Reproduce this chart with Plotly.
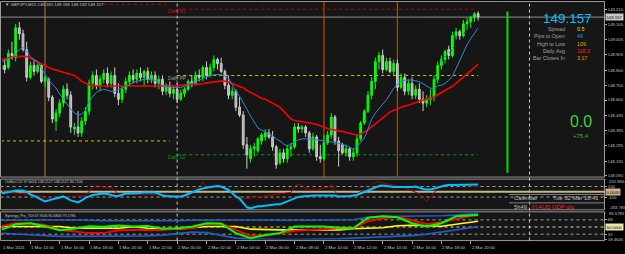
import plotly.graph_objects as go

W, H = 625, 254

# ---------------- data ----------------
bars = list(range(131))  # M15 bars from 1 Mar 2021 12:00

opens = [148.805, 148.832, 148.819, 148.912, 148.885, 149.085, 149.045, 148.939, 148.752, 148.832,
         148.792, 148.832, 148.725, 148.739, 148.619, 148.459, 148.512, 148.579, 148.672, 148.632,
         148.405, 148.419, 148.379, 148.459, 148.525, 148.712, 148.765, 148.699, 148.739, 148.779,
         148.712, 148.765, 148.645, 148.605, 148.672, 148.725, 148.765, 148.739, 148.779, 148.752,
         148.792, 148.739, 148.765, 148.712, 148.739, 148.659, 148.699, 148.645, 148.672, 148.605,
         148.645, 148.672, 148.725, 148.712, 148.765, 148.752, 148.819, 148.765, 148.819, 148.872,
         148.845, 148.792, 148.699, 148.632, 148.659, 148.552, 148.499, 148.299, 148.205, 148.272,
         148.259, 148.325, 148.352, 148.379, 148.352, 148.285, 148.179, 148.245, 148.205, 148.272,
         148.285, 148.419, 148.405, 148.419, 148.379, 148.272, 148.352, 148.219, 148.205, 148.312,
         148.365, 148.485, 148.325, 148.299, 148.245, 148.272, 148.219, 148.245, 148.339, 148.445,
         148.525, 148.632, 148.725, 148.859, 148.899, 148.805, 148.859, 148.792, 148.845, 148.685,
         148.752, 148.659, 148.712, 148.632, 148.672, 148.605, 148.579, 148.605, 148.619, 148.739,
         148.832, 148.872, 148.939, 148.899, 149.032, 149.059, 149.032, 149.112, 149.125, 149.152,
         149.181]
highs = [148.859, 148.872, 148.939, 148.992, 149.112, 149.125, 149.072, 148.992, 148.859, 148.872,
         148.845, 148.845, 148.765, 148.752, 148.632, 148.539, 148.605, 148.699, 148.712, 148.659,
         148.445, 148.525, 148.485, 148.552, 148.739, 148.792, 148.805, 148.765, 148.805, 148.819,
         148.792, 148.819, 148.712, 148.699, 148.752, 148.792, 148.805, 148.805, 148.819, 148.805,
         148.819, 148.792, 148.792, 148.765, 148.765, 148.712, 148.725, 148.699, 148.712, 148.672,
         148.685, 148.739, 148.765, 148.792, 148.805, 148.832, 148.859, 148.845, 148.899, 148.885,
         148.885, 148.805, 148.765, 148.685, 148.672, 148.619, 148.525, 148.352, 148.299, 148.312,
         148.352, 148.379, 148.405, 148.405, 148.392, 148.299, 148.272, 148.272, 148.299, 148.312,
         148.445, 148.445, 148.432, 148.432, 148.392, 148.379, 148.365, 148.299, 148.365, 148.392,
         148.512, 148.499, 148.352, 148.312, 148.299, 148.285, 148.272, 148.365, 148.459, 148.539,
         148.659, 148.752, 148.885, 148.925, 148.939, 148.885, 148.885, 148.872, 148.872, 148.779,
         148.779, 148.739, 148.752, 148.699, 148.712, 148.659, 148.632, 148.672, 148.765, 148.859,
         148.899, 148.939, 148.965, 149.059, 149.085, 149.072, 149.139, 149.152, 149.165, 149.192,
         149.196]
lows = [148.765, 148.779, 148.805, 148.872, 148.859, 149.005, 148.925, 148.725, 148.739, 148.765,
        148.779, 148.712, 148.685, 148.592, 148.445, 148.392, 148.485, 148.552, 148.605, 148.379,
        148.365, 148.352, 148.352, 148.432, 148.499, 148.672, 148.672, 148.659, 148.712, 148.685,
        148.685, 148.619, 148.565, 148.579, 148.645, 148.699, 148.712, 148.712, 148.725, 148.699,
        148.712, 148.712, 148.685, 148.672, 148.632, 148.632, 148.619, 148.605, 148.579, 148.592,
        148.619, 148.659, 148.685, 148.699, 148.725, 148.725, 148.739, 148.752, 148.792, 148.805,
        148.779, 148.672, 148.605, 148.605, 148.525, 148.485, 148.272, 148.139, 148.179, 148.219,
        148.245, 148.299, 148.325, 148.339, 148.259, 148.139, 148.165, 148.179, 148.179, 148.219,
        148.272, 148.379, 148.379, 148.352, 148.245, 148.259, 148.192, 148.179, 148.192, 148.299,
        148.339, 148.299, 148.152, 148.232, 148.219, 148.192, 148.192, 148.219, 148.325, 148.432,
        148.512, 148.605, 148.672, 148.805, 148.779, 148.792, 148.779, 148.765, 148.659, 148.672,
        148.632, 148.632, 148.605, 148.605, 148.579, 148.525, 148.552, 148.565, 148.592, 148.712,
        148.805, 148.845, 148.872, 148.885, 149.005, 149.005, 149.019, 149.072, 149.085, 149.125,
        149.133]
closes = [148.832, 148.805, 148.912, 148.899, 149.085, 149.045, 148.939, 148.752, 148.832, 148.792,
          148.832, 148.725, 148.752, 148.619, 148.472, 148.512, 148.579, 148.672, 148.632, 148.419,
          148.419, 148.379, 148.459, 148.525, 148.712, 148.765, 148.699, 148.739, 148.779, 148.712,
          148.765, 148.645, 148.605, 148.672, 148.725, 148.765, 148.739, 148.779, 148.752, 148.792,
          148.739, 148.765, 148.712, 148.739, 148.659, 148.699, 148.645, 148.672, 148.605, 148.645,
          148.672, 148.725, 148.712, 148.765, 148.752, 148.819, 148.765, 148.819, 148.872, 148.845,
          148.792, 148.699, 148.632, 148.659, 148.552, 148.499, 148.299, 148.232, 148.272, 148.285,
          148.339, 148.365, 148.379, 148.352, 148.285, 148.165, 148.245, 148.205, 148.272, 148.285,
          148.419, 148.405, 148.419, 148.379, 148.272, 148.352, 148.219, 148.205, 148.312, 148.365,
          148.485, 148.325, 148.259, 148.245, 148.272, 148.219, 148.245, 148.339, 148.445, 148.525,
          148.632, 148.725, 148.859, 148.899, 148.805, 148.859, 148.792, 148.845, 148.685, 148.752,
          148.659, 148.712, 148.632, 148.672, 148.605, 148.579, 148.605, 148.619, 148.739, 148.832,
          148.872, 148.925, 148.899, 149.032, 149.059, 149.032, 149.112, 149.125, 149.152, 149.179,
          149.157]

ma_slow = [148.872, 148.879, 148.885, 148.889, 148.892, 148.894, 148.894, 148.892, 148.882, 148.869,
           148.855, 148.842, 148.832, 148.819, 148.809, 148.802, 148.795, 148.789, 148.782, 148.775,
           148.765, 148.745, 148.725, 148.712, 148.702, 148.695, 148.694, 148.694, 148.695, 148.695,
           148.694, 148.694, 148.693, 148.693, 148.693, 148.692, 148.692, 148.692, 148.691, 148.691,
           148.691, 148.692, 148.692, 148.692, 148.691, 148.691, 148.692, 148.692, 148.695, 148.699,
           148.702, 148.705, 148.705, 148.705, 148.705, 148.709, 148.715, 148.719, 148.722, 148.725,
           148.727, 148.727, 148.722, 148.712, 148.699, 148.692, 148.682, 148.665, 148.652, 148.639,
           148.625, 148.612, 148.605, 148.592, 148.579, 148.565, 148.552, 148.525, 148.499, 148.472,
           148.462, 148.459, 148.455, 148.452, 148.449, 148.442, 148.435, 148.425, 148.415, 148.409,
           148.402, 148.399, 148.394, 148.389, 148.382, 148.375, 148.372, 148.365, 148.372, 148.385,
           148.399, 148.419, 148.439, 148.465, 148.485, 148.499, 148.519, 148.532, 148.542, 148.552,
           148.559, 148.565, 148.575, 148.582, 148.592, 148.599, 148.605, 148.612, 148.622, 148.635,
           148.649, 148.662, 148.675, 148.692, 148.712, 148.732, 148.752, 148.772, 148.795, 148.819,
           148.839]
ma_fast = [148.859, 148.865, 148.872, 148.885, 148.912, 148.939, 148.952, 148.932, 148.892, 148.872,
           148.859, 148.812, 148.772, 148.732, 148.705, 148.679, 148.639, 148.605, 148.565, 148.539,
           148.512, 148.499, 148.505, 148.525, 148.592, 148.625, 148.652, 148.665, 148.672, 148.665,
           148.659, 148.659, 148.669, 148.679, 148.689, 148.702, 148.719, 148.725, 148.732, 148.739,
           148.739, 148.735, 148.732, 148.719, 148.695, 148.689, 148.685, 148.685, 148.685, 148.685,
           148.692, 148.702, 148.715, 148.725, 148.735, 148.745, 148.755, 148.765, 148.769, 148.772,
           148.769, 148.762, 148.745, 148.699, 148.659, 148.625, 148.585, 148.539, 148.492, 148.452,
           148.412, 148.399, 148.385, 148.372, 148.359, 148.339, 148.325, 148.305, 148.292, 148.302,
           148.319, 148.332, 148.339, 148.339, 148.339, 148.339, 148.332, 148.329, 148.325, 148.322,
           148.319, 148.315, 148.309, 148.302, 148.295, 148.282, 148.272, 148.285, 148.312, 148.345,
           148.405, 148.472, 148.512, 148.545, 148.572, 148.599, 148.639, 148.679, 148.705, 148.725,
           148.732, 148.735, 148.735, 148.729, 148.722, 148.709, 148.692, 148.679, 148.679, 148.695,
           148.699, 148.712, 148.732, 148.759, 148.812, 148.865, 148.919, 148.972, 149.012, 149.052,
           149.085]
env_bars = [120, 121, 122, 123, 124, 125, 126, 127, 128, 129, 130]
env_upper = [148.859, 148.885, 148.912, 148.939, 148.972, 149.005, 149.045, 149.079, 149.112, 149.139, 149.159]

cci_main = [-31.3, -21.9, -12.4, 6.4, 25.3, 25.3, 25.3, -3.0, -50.2, -78.5,
            -116.2, -154.0, -182.3, -163.4, -144.6, -116.2, -97.3, -88.0, -125.7, -163.4,
            -182.3, -201.2, -163.4, -116.2, -88.0, -59.6, -50.2, -40.7, -31.3, -40.7,
            -59.6, -78.5, -78.5, -50.2, -31.3, -31.3, -31.3, -31.3, -21.9, -12.4,
            -12.4, -12.4, -12.4, -40.7, -69.1, -78.5, -88.0, -88.0, -88.0, -88.0,
            -69.1, -40.7, -3.0, 25.3, 44.2, 63.0, 81.9, 91.4, 100.8, 110.2,
            100.8, 72.5, 34.8, -21.9, -88.0, -125.7, -201.2, -295.5, -314.4, -295.5,
            -276.6, -276.6, -267.2, -257.8, -238.9, -238.9, -238.9, -210.6, -182.3, -163.4,
            -135.1, -97.3, -88.0, -78.5, -69.1, -69.1, -69.1, -69.1, -69.1, -59.6,
            -59.6, -69.1, -88.0, -88.0, -88.0, -78.5, -69.1, -59.6, -31.3, -3.0,
            25.3, 53.6, 81.9, 110.2, 119.7, 110.2, 93.0, 89.5, 92.0, 90.0,
            88.5, 81.9, 91.4, 100.8, 72.5, 53.6, 44.2, 44.2, 63.0, 81.9,
            110.2, 119.7, 129.1, 129.1, 129.1, 138.5, 138.5, 138.5, 138.5, 138.5,
            138.2]
cci_signal = [6.4, 6.4, -3.0, -12.4, -21.9, -31.3, -40.7, -59.6, -69.1, -69.1,
              -69.1, -97.3, -116.2, -125.7, -116.2, -97.3, -88.0, -88.0, -88.0, -88.0,
              -88.0, -78.5, -78.5, -69.1, 6.4, 81.9, 119.7, 100.8, 91.4, 81.9,
              72.5, 25.3, -50.2, -69.1, -50.2, -50.2, -50.2, -50.2, -50.2, -40.7,
              -40.7, -40.7, -40.7, -50.2, -50.2, -50.2, -69.1, -88.0, -88.0, -88.0,
              -88.0, -69.1, -21.9, 63.0, 129.1, 176.3, 81.9, 100.8, 91.4, 81.9,
              81.9, 72.5, 44.2, -21.9, -125.7, -163.4, -135.1, -125.7, -125.7, -116.2,
              -106.8, -88.0, -78.5, -69.1, -59.6, -59.6, -50.2, -40.7, -31.3, -12.4,
              100.8, 148.0, 119.7, 63.0, 34.8, 34.8, 34.8, 53.6, 81.9, 81.9,
              138.5, 6.4, -69.1, -78.5, -88.0, -88.0, -88.0, -40.7, 6.4, 6.4,
              44.2, 138.5, 185.7, 185.7, 166.9, 157.4, 138.5, 129.1, 119.7, 100.8,
              81.9, 53.6, 15.9, -12.4, -40.7, -106.8, -182.3, -106.8, -12.4, 63.0,
              110.2, 129.1, 129.1, 129.1, 129.1, 119.7, 119.7, 119.7, 110.2, 100.8,
              97.8]

tdi_bars = [0, 4, 8, 12, 16, 20, 24, 28, 32, 36, 40, 44, 48, 52, 56, 60, 64, 68, 72, 76,
            80, 84, 88, 92, 96, 100, 104, 108, 112, 116, 120, 124, 128, 130]
tdi_price = [42.8, 57.0, 59.5, 52.0, 42.1, 45.8, 52.0, 50.5, 53.5, 51.0, 52.5, 45.8, 47.0, 50.8,
             59.5, 58.3, 34.7, 22.2, 29.7, 34.7, 51.3, 51.3, 51.3, 48.3, 47.0, 73.1, 76.9, 74.4,
             59.5, 51.3, 59.5, 76.9, 78.1, 80.1]
tdi_signal = [52.0, 59.5, 59.5, 55.3, 43.3, 38.3, 34.7, 34.7, 42.1, 42.8, 42.8, 42.8, 45.8, 47.0,
              58.3, 59.5, 42.1, 28.4, 28.4, 34.7, 40.8, 42.8, 45.8, 47.0, 47.0, 64.5, 71.9, 75.6,
              66.9, 57.0, 62.0, 70.6, 78.1, 80.1]
tdi_base = [51.3, 51.3, 51.3, 51.3, 51.3, 47.0, 47.0, 47.0, 47.0, 50.8, 47.0, 45.8, 44.6, 48.3,
            51.3, 51.3, 51.3, 44.6, 42.8, 42.8, 42.8, 42.8, 42.8, 42.8, 45.8, 47.0, 48.3, 53.3,
            54.5, 53.3, 52.0, 57.0, 62.0, 64.5]
tdi_upper = [66.9, 67.7, 67.7, 67.7, 67.7, 67.7, 66.9, 65.7, 65.7, 64.5, 64.5, 64.5, 65.7, 66.9,
             67.7, 67.7, 67.7, 67.7, 66.9, 66.9, 66.9, 66.9, 66.9, 67.7, 68.2, 74.4, 76.9, 76.9,
             76.9, 76.9, 78.1, 79.9, 83.1, 84.3]
tdi_lower = [34.7, 32.6, 30.4, 27.2, 26.5, 26.5, 26.5, 27.2, 27.2, 27.9, 27.9, 29.7, 33.4, 37.1,
             35.9, 28.4, 22.2, 19.7, 18.7, 18.7, 18.7, 18.7, 18.9, 20.2, 22.2, 23.4, 24.7, 25.4,
             28.4, 32.2, 37.1, 42.1, 48.3, 51.3]

x_tick_bars = [0, 8, 16, 24, 32, 40, 48, 56, 64, 72, 80, 88, 96, 104, 112, 120, 128]
x_tick_text = ["1 Mar 2021", "1 Mar 14:00", "1 Mar 16:00", "1 Mar 18:00", "1 Mar 20:00",
               "1 Mar 22:00", "2 Mar 00:00", "2 Mar 02:00", "2 Mar 04:00", "2 Mar 06:00",
               "2 Mar 08:00", "2 Mar 10:00", "2 Mar 12:00", "2 Mar 14:00", "2 Mar 16:00",
               "2 Mar 18:00", "2 Mar 20:00"]

price_ticks = [149.210, 149.105, 149.005, 148.905, 148.800, 148.700, 148.600, 148.495,
               148.395, 148.295, 148.190, 148.090]
price_tick_text = ["149.210", "149.105", "149.005", "148.905", "148.800", "148.700", "148.600",
                   "148.495", "148.395", "148.295", "148.190", "148.090"]
cci_ticks = [100, -100]
cci_tick_text = ["100", "-100"]
cci_max, cci_min = 232.8944, -333.785
tdi_ticks = [68, 32, 18.4646]
tdi_tick_text = ["68", "32", "18.4646"]
tdi_max, tdi_min = 85.5783, 18.4646

prev_r1, prev_pp = 149.243, 148.325
daily_r1, daily_pp, daily_s1 = 149.210, 148.765, 148.232
prev_start, prev_end = 28, 46
day_start, day_end = 48, 130
bid = 149.157
day_separators = [48, 144]
event_bars = [12, 88, 108]
event_colors = ["#b08040", "#e04a10", "#a06418"]
range_bar, range_hi, range_lo = 138, 149.194, 148.112

info_labels = ["Spread", "Pips to Open", "High to Low", "Daily Avg", "Bar Closes In"]
info_values = ["0.5", "49", "109", "118.3", "3:17"]
info_colors = ["#ffd700", "#1e9bff", "#e0a020", "#ff2020", "#ff8c00"]

# ---------------- figure ----------------
def py(y):
    return 1 - y / H

def px(x):
    return x / W

X_MIN, X_MAX = (2 - 1) / 3.67, (604 - 1) / 3.67
FONT = "Liberation Sans"
fig = go.Figure()

fig.add_trace(go.Candlestick(
    x=bars, open=opens, high=highs, low=lows, close=closes,
    increasing=dict(line=dict(color="#00ff00", width=1), fillcolor="#00ff00"),
    decreasing=dict(line=dict(color="#cccccc", width=1), fillcolor="#b0b0b0"),
    whiskerwidth=0, xaxis="x", yaxis="y", hoverinfo="skip"))
fig.add_trace(go.Scatter(x=bars, y=ma_slow, mode="lines", line=dict(color="#ff0000", width=1.6),
                         xaxis="x", yaxis="y"))
fig.add_trace(go.Scatter(x=bars, y=ma_fast, mode="lines", line=dict(color="#2a8ad8", width=1),
                         xaxis="x", yaxis="y"))
fig.add_trace(go.Scatter(x=env_bars, y=env_upper, mode="lines",
                         line=dict(color="#1010c0", width=1, dash="dot"), xaxis="x", yaxis="y"))

fig.add_trace(go.Scatter(x=bars, y=cci_signal, mode="lines", line=dict(color="#a80000", width=1),
                         xaxis="x", yaxis="y2"))
fig.add_trace(go.Scatter(x=bars, y=cci_main, mode="lines", line=dict(color="#00bfff", width=2),
                         xaxis="x", yaxis="y2"))

fig.add_trace(go.Scatter(x=tdi_bars, y=tdi_upper, mode="lines", line=dict(color="#1e5ec8", width=1.6),
                         xaxis="x", yaxis="y3"))
fig.add_trace(go.Scatter(x=tdi_bars, y=tdi_lower, mode="lines", line=dict(color="#1e5ec8", width=1.6),
                         xaxis="x", yaxis="y3"))
fig.add_trace(go.Scatter(x=tdi_bars, y=tdi_base, mode="lines", line=dict(color="#ffff00", width=1.6),
                         xaxis="x", yaxis="y3"))
fig.add_trace(go.Scatter(x=tdi_bars, y=tdi_signal, mode="lines", line=dict(color="#ff0000", width=2),
                         xaxis="x", yaxis="y3"))
fig.add_trace(go.Scatter(x=tdi_bars, y=tdi_price, mode="lines", line=dict(color="#00ff00", width=2),
                         xaxis="x", yaxis="y3"))

shapes = []
PANEL = "#161616"
BORDER = "#9a9a9a"
for (y0, y1) in [(1.5, 178.5), (180.5, 211.5), (213.5, 242.5)]:
    shapes.append(dict(type="rect", xref="paper", yref="paper", x0=px(0.5), x1=px(604.5),
                       y0=py(y1), y1=py(y0), fillcolor=PANEL, line=dict(color=BORDER, width=1),
                       layer="below"))
shapes.append(dict(type="line", xref="paper", yref="y", x0=px(0.5), x1=px(604.5), y0=bid, y1=bid,
                   line=dict(color="#909090", width=1), layer="below"))
for lvl, x0, x1, col in [(prev_r1, prev_start, prev_end, "#c00000"),
                         (prev_pp, 0, prev_end, "#c8c800"),
                         (daily_r1, day_start, day_end, "#c00000"),
                         (daily_pp, day_start, day_end, "#c8c800"),
                         (daily_s1, day_start, day_end, "#00a000")]:
    shapes.append(dict(type="line", xref="x", yref="y", x0=x0, x1=x1, y0=lvl, y1=lvl,
                       line=dict(color=col, width=1, dash="dot"), layer="below"))
for b, c in zip(event_bars, event_colors):
    shapes.append(dict(type="line", xref="x", yref="paper", x0=b, x1=b, y0=py(178.5), y1=py(1.5),
                       line=dict(color=c, width=1), layer="below"))
for b in day_separators:
    shapes.append(dict(type="line", xref="x", yref="paper", x0=b, x1=b, y0=py(242.5), y1=py(1.5),
                       line=dict(color="#c8c8c8", width=1, dash="dot"), layer="below"))
shapes.append(dict(type="line", xref="x", yref="y", x0=range_bar, x1=range_bar, y0=range_lo, y1=range_hi,
                   line=dict(color="#00e000", width=2)))
for lvl in [100, -100]:
    shapes.append(dict(type="line", xref="paper", yref="y2", x0=px(0.5), x1=px(604.5), y0=lvl, y1=lvl,
                       line=dict(color="#a0a0a0", width=1, dash="dot"), layer="below"))
shapes.append(dict(type="line", xref="paper", yref="y2", x0=px(0.5), x1=px(604.5), y0=0, y1=0,
                   line=dict(color="#c8b48a", width=2), layer="below"))
for lvl, col in [(68, "#a0a0a0"), (32, "#a0a0a0"), (50, "#d8d8b0")]:
    shapes.append(dict(type="line", xref="paper", yref="y3", x0=px(0.5), x1=px(604.5), y0=lvl, y1=lvl,
                       line=dict(color=col, width=1, dash="dot"), layer="below"))
for yy in [196, 204.5]:
    shapes.append(dict(type="line", xref="paper", yref="paper", x0=px(509), x1=px(604.5), y0=py(yy), y1=py(yy),
                       line=dict(color="#808080", width=1)))
# tick marks for the clamped extreme labels
for yref, v in [("y2", cci_max), ("y2", cci_min), ("y3", tdi_max)]:
    shapes.append(dict(type="line", xref="paper", yref=yref, x0=px(604), x1=px(606), y0=v, y1=v,
                       line=dict(color="#a0a0a0", width=1)))

ann = []
TXT = "#c8c8c8"
def a(text, x, y, xanchor="left", size=4.5, color=TXT, xref="paper", yref="paper", **kw):
    ann.append(dict(text=text, x=x, y=y, xref=xref, yref=yref, xanchor=xanchor, yanchor="middle",
                    showarrow=False, font=dict(family=FONT, size=size, color=color), **kw))

a("▼ GBPJPY,M15 %.3f %.3f %.3f %.3f" % (opens[-1], highs[-1], lows[-1], closes[-1]),
  px(2.5), py(4.5), size=4.3)
a("OsMaCCI2 97.8416 138.2127 138.2127 83.7106", px(2.5), py(183), size=3.6)
a("Synergy_Pro_TDI 67.9106 85.6806 79.1786", px(2.5), py(217.7), size=3.6)

a("Daily R1", day_start, daily_r1, xanchor="center", size=4.7, color="#d01010", xref="x", yref="y", yshift=-2.5)
a("Daily PP", day_start, daily_pp, xanchor="center", size=4.7, color="#a0a0a0", xref="x", yref="y", yshift=-3)
a("Daily S1", day_start, daily_s1, xanchor="center", size=4.7, color="#00a000", xref="x", yref="y", yshift=-3)

for b, t in zip(x_tick_bars, x_tick_text):
    a(t, max(b, X_MIN), py(249.3), size=4.3, xref="x", xshift=-1)

a("%.3f" % closes[-1], px(594), py(18.5), xanchor="right", size=13.5, color="#00bfff")
for i, (lab, val, col) in enumerate(zip(info_labels, info_values, info_colors)):
    yy = 29.5 + i * 7.2
    a(lab, px(567), py(yy), xanchor="right", size=5.3, color="#a0a0a0")
    a(val, px(575), py(yy), xanchor="left", size=5.3, color=col)
a("0.0", px(581), py(122.5), xanchor="center", size=16, color="#3cd23c")
a("+75.4", px(581), py(137.5), xanchor="center", size=6, color="#3cb43c")

a("Calendar", px(512), py(199.8), size=5.8, color="#c0c0c0")
a("Tue 02 Mar 18:41", px(601), py(199.8), xanchor="right", size=5.8, color="#c0c0c0")
a("5h49", px(512), py(208.3), size=5.8, color="#c0c0c0")
a("[!] AUD GDP q/q", px(530), py(208.3), size=5.8, color="#ff2020")

# clamped extreme labels of the indicator scales
a("232.8944", px(607), py(183.2), size=4.2, color="#c0c0c0")
a("-333.785", px(607), py(208.7), size=4.2, color="#c0c0c0")
a("85.5783", px(607), py(215.6), size=4.2, color="#c0c0c0")

# boxed current-value labels
a("%.3f" % bid, px(604.5), bid, size=4.2, color="#000000", yref="y", bgcolor="#c8c8c8", borderpad=0.5)
a("0.0000", px(604.5), 0, size=4.2, color="#000000", yref="y2", bgcolor="#d2b48c", borderpad=0.5)
a("50.0000", px(604.5), 50, size=4.2, color="#000000", yref="y3", bgcolor="#eee8aa", borderpad=0.5)

axis_common = dict(showgrid=False, zeroline=False, showline=False, side="right", anchor="x",
                   ticks="outside", ticklen=2, tickcolor="#a0a0a0",
                   tickfont=dict(family=FONT, size=4.2, color="#c0c0c0"))

fig.update_layout(
    width=W, height=H, margin=dict(l=0, r=0, t=0, b=0),
    paper_bgcolor="#000000", plot_bgcolor="rgba(0,0,0,0)", showlegend=False,
    xaxis=dict(domain=[px(2), px(604)], range=[X_MIN, X_MAX], anchor="y3",
               showgrid=False, zeroline=False, showline=False, rangeslider=dict(visible=False),
               tickvals=x_tick_bars, showticklabels=False, ticks="outside", ticklen=3,
               tickcolor="#a0a0a0", fixedrange=True),
    yaxis=dict(domain=[py(178), py(2)], range=[149.272 - 178 / 150, 149.272 - 2 / 150],
               tickvals=price_ticks, ticktext=price_tick_text, **axis_common),
    yaxis2=dict(domain=[py(211), py(181)], range=[cci_min, cci_max],
                tickvals=cci_ticks, ticktext=cci_tick_text, **axis_common),
    yaxis3=dict(domain=[py(241.5), py(214.5)], range=[tdi_min, tdi_max],
                tickvals=tdi_ticks, ticktext=tdi_tick_text, **axis_common),
    shapes=shapes, annotations=ann,
)

fig.write_html("out.html")
